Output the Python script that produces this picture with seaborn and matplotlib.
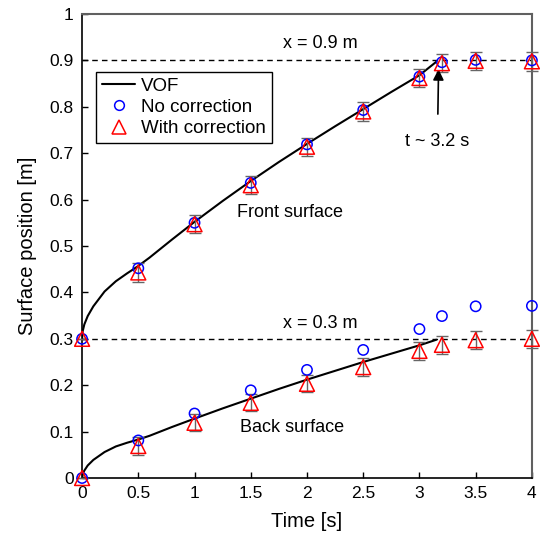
import numpy as np
import pandas as pd
import seaborn as sns
import matplotlib.pyplot as plt
from matplotlib.lines import Line2D

# measured times [s]
t_meas = [0, 0.5, 1, 1.5, 2, 2.5, 3, 3.2, 3.5, 4]

# front surface
front_nocorr = [0.300, 0.452, 0.550, 0.636, 0.719, 0.793, 0.865, 0.896, 0.901, 0.900]
front_corr = [0.300, 0.443, 0.547, 0.631, 0.714, 0.790, 0.862, 0.894, 0.899, 0.898]
front_err = [0.0, 0.02, 0.019, 0.019, 0.019, 0.02, 0.02, 0.019, 0.02, 0.02]

# back surface
back_nocorr = [0.000, 0.081, 0.139, 0.189, 0.233, 0.276, 0.321, 0.349, 0.370, 0.371]
back_corr = [0.000, 0.069, 0.119, 0.162, 0.203, 0.239, 0.274, 0.287, 0.297, 0.300]
back_err = [0.0, 0.02, 0.018, 0.018, 0.018, 0.02, 0.02, 0.019, 0.02, 0.02]

# VOF simulation curves
t_vof = [0, 0.005, 0.02, 0.05, 0.1, 0.2, 0.3, 0.4, 0.5, 0.6, 0.8, 1.0,
         1.25, 1.5, 1.75, 2.0, 2.25, 2.5, 2.75, 3.0, 3.15]
front_vof = [0.300, 0.316, 0.331, 0.349, 0.370, 0.402, 0.424, 0.441, 0.457, 0.475, 0.514, 0.552,
             0.597, 0.640, 0.681, 0.720, 0.758, 0.795, 0.832, 0.868, 0.897]
back_vof = [0.000, 0.008, 0.016, 0.027, 0.039, 0.056, 0.068, 0.076, 0.083, 0.091, 0.110, 0.128,
            0.150, 0.171, 0.192, 0.212, 0.231, 0.250, 0.268, 0.286, 0.298]

sns.set_style("white")
plt.rcParams["font.family"] = ["Liberation Sans", "DejaVu Sans"]
plt.rcParams["text.color"] = "black"
plt.rcParams["axes.labelcolor"] = "black"
plt.rcParams["xtick.color"] = "black"
plt.rcParams["ytick.color"] = "black"

fig = plt.figure(figsize=(5.4, 5.38), dpi=100)
ax = fig.add_axes([0.152, 0.1115, 0.833, 0.8625])

vof = pd.DataFrame({"t": t_vof * 2,
                    "y": front_vof + back_vof,
                    "surface": ["front"] * len(t_vof) + ["back"] * len(t_vof)})
meas = pd.DataFrame({"t": t_meas * 2,
                     "nocorr": front_nocorr + back_nocorr,
                     "corr": front_corr + back_corr,
                     "err": front_err + back_err})

# reference lines
for yref in [0.9, 0.3]:
    ax.axhline(yref, color="black", ls=(0, (4, 3)), lw=1, zorder=1)

sns.lineplot(data=vof, x="t", y="y", units="surface", estimator=None,
             color="black", lw=1.5, ax=ax, zorder=2)

eb = ax.errorbar(meas["t"], meas["corr"], yerr=meas["err"], fmt="none",
                 ecolor="#666666", elinewidth=1, capsize=4, capthick=1, zorder=3)
for art in eb.lines[1] + eb.lines[2]:
    art.set_clip_on(False)

sns.scatterplot(data=meas, x="t", y="nocorr", marker="o", s=55,
                facecolor="none", edgecolor="blue", linewidth=1.1, ax=ax, zorder=4,
                clip_on=False)
sns.scatterplot(data=meas, x="t", y="corr", marker="^", s=115,
                facecolor="none", edgecolor="red", linewidth=1.1, ax=ax, zorder=5,
                clip_on=False)

ax.set_xlim(0, 4)
ax.set_ylim(0, 1)
ax.set_xticks(np.arange(0, 4.01, 0.5))
ax.set_xticklabels(["0", "0.5", "1", "1.5", "2", "2.5", "3", "3.5", "4"])
ax.set_yticks(np.arange(0, 1.01, 0.1))
ax.set_yticklabels(["0", "0.1", "0.2", "0.3", "0.4", "0.5", "0.6", "0.7", "0.8", "0.9", "1"])
ax.tick_params(direction="in", length=4, width=1, labelsize=12.5, pad=6,
               left=True, bottom=True, top=False, right=False)
ax.set_xlabel("Time [s]", fontsize=14.5, labelpad=8)
ax.set_ylabel("Surface position [m]", fontsize=14.5, labelpad=9)

for side in ["left", "bottom"]:
    ax.spines[side].set_color("black")
    ax.spines[side].set_linewidth(1.2)
for side in ["top", "right"]:
    ax.spines[side].set_color("#606060")
    ax.spines[side].set_linewidth(1.5)

ax.text(2.12, 0.937, "x = 0.9 m", fontsize=13, ha="center", va="center")
ax.text(2.12, 0.334, "x = 0.3 m", fontsize=13, ha="center", va="center")
ax.text(1.85, 0.573, "Front surface", fontsize=13, ha="center", va="center")
ax.text(1.87, 0.108, "Back surface", fontsize=13, ha="center", va="center")
ax.annotate("t ~ 3.2 s", xy=(3.17, 0.881), xytext=(3.16, 0.726),
            fontsize=13, ha="center", va="center",
            arrowprops=dict(arrowstyle="-|>", color="black", lw=1.2,
                            mutation_scale=16, shrinkA=11, shrinkB=0))

handles = [
    Line2D([], [], color="black", lw=1.5, label="VOF"),
    Line2D([], [], marker="o", ls="none", mfc="none", mec="blue", ms=7, mew=1.1, label="No correction"),
    Line2D([], [], marker="^", ls="none", mfc="none", mec="red", ms=10, mew=1.1, label="With correction"),
]
leg = ax.legend(handles=handles, loc="upper left", bbox_to_anchor=(0.031, 0.875),
                borderaxespad=0, fontsize=13.5, frameon=True, fancybox=False,
                edgecolor="black", handlelength=1.8, handletextpad=0.3,
                labelspacing=0.22, borderpad=0.3)
leg.get_frame().set_linewidth(1)
leg.get_frame().set_alpha(1)

fig.savefig("out.png", dpi=100)
